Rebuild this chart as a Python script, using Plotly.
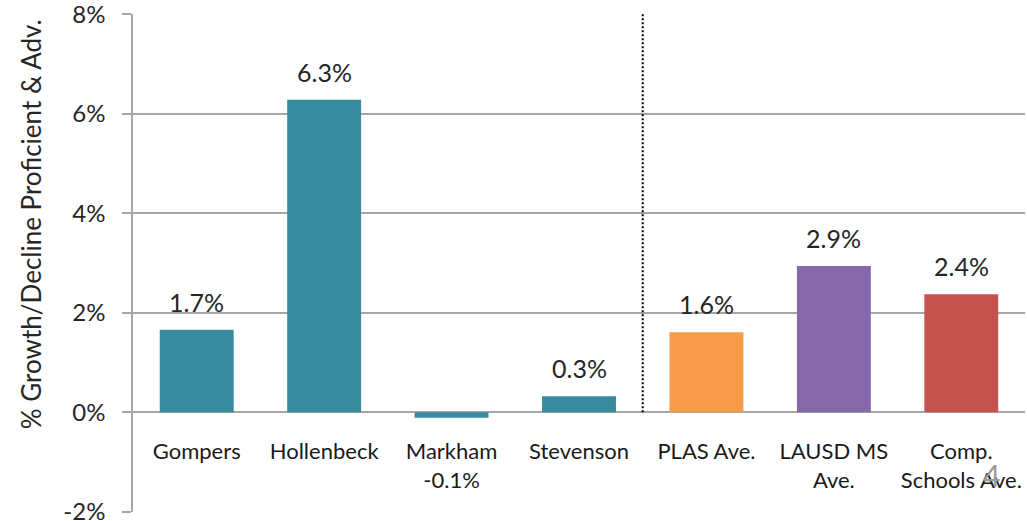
import plotly.graph_objects as go

categories = ["Gompers", "Hollenbeck", "Markham", "Stevenson", "PLAS Ave.", "LAUSD MS<br>Ave.", "Comp.<br>Schools Ave."]
values = [0.0166, 0.0628, -0.0011, 0.0032, 0.0161, 0.0294, 0.0237]
value_labels = ["1.7%", "6.3%", "-0.1%", "0.3%", "1.6%", "2.9%", "2.4%"]
colors = ["#378B9F", "#378B9F", "#378B9F", "#378B9F", "#F79B4B", "#8568A8", "#C4524E"]
y_ticks = [-0.02, 0, 0.02, 0.04, 0.06, 0.08]
y_tick_labels = ["-2%", "0%", "2%", "4%", "6%", "8%"]

y_min, y_max = -0.02, 0.08
font = "Lato, Calibri, sans-serif"

# negative value goes under the category name, like the original slide
tick_text = [c + "<br>" + t if v < 0 else c for c, v, t in zip(categories, values, value_labels)]

fig = go.Figure(go.Bar(
    x=list(range(len(categories))),
    y=values,
    marker=dict(color=colors, line=dict(width=0)),
    hoverinfo="skip",
))

for i, (v, t) in enumerate(zip(values, value_labels)):
    if v < 0:
        continue
    fig.add_annotation(x=i, y=v, text=t, showarrow=False, yanchor="bottom", yshift=11,
                       font=dict(size=25, color="#262626", family=font))

# dotted separator between schools and averages
fig.add_shape(type="line", x0=3.5, x1=3.5, y0=0, y1=y_max, xref="x", yref="y",
              line=dict(color="black", width=2, dash="2px,2px"))

# y title as annotation (sits a bit higher than the axis centre on the slide)
fig.add_annotation(x=-0.1143, y=0.578, xref="paper", yref="paper", text="% Growth/Decline Proficient & Adv.",
                   textangle=-90, showarrow=False, xanchor="center", yanchor="middle",
                   font=dict(size=26, color="#262626", family=font))

# slide number
fig.add_annotation(x=0.962, y=0.074, xref="paper", yref="paper", text="4", showarrow=False,
                   xanchor="center", yanchor="middle",
                   font=dict(size=30, color="#999999", family=font))

fig.update_layout(
    width=1027, height=521,
    margin=dict(l=133, r=2, t=14, b=9),
    plot_bgcolor="white", paper_bgcolor="white",
    bargap=0.42, showlegend=False,
    font=dict(family=font, color="#262626"),
)
fig.update_yaxes(
    range=[y_min - 0.00005, y_max + 0.00005], tickvals=y_ticks, ticktext=y_tick_labels,
    automargin=False, ticklabeloverflow="allow",
    showgrid=True, gridcolor="#a6a6a6", gridwidth=1.5,
    zeroline=True, zerolinecolor="#a6a6a6", zerolinewidth=1.5,
    showline=True, linecolor="#a6a6a6", linewidth=1.5,
    ticks="outside", ticklen=9, tickcolor="#a6a6a6", tickwidth=1.5,
    ticklabelstandoff=12,
    tickfont=dict(size=24, color="#262626"),
)
fig.update_xaxes(
    range=[-0.5, len(categories) - 0.5],
    tickmode="array", tickvals=list(range(len(categories))), ticktext=tick_text,
    anchor="free", position=(0 - y_min) / (y_max - y_min),
    automargin=False, ticklabeloverflow="allow",
    showline=False, showgrid=False, ticks="", ticklabelstandoff=24,
    tickfont=dict(size=22, color="#1a1a1a"),
)

# drop the default 8px page margin so the figure fills the window
fig.write_html("out.html", config={"displayModeBar": False},
               post_script="document.body.style.margin='0';")
